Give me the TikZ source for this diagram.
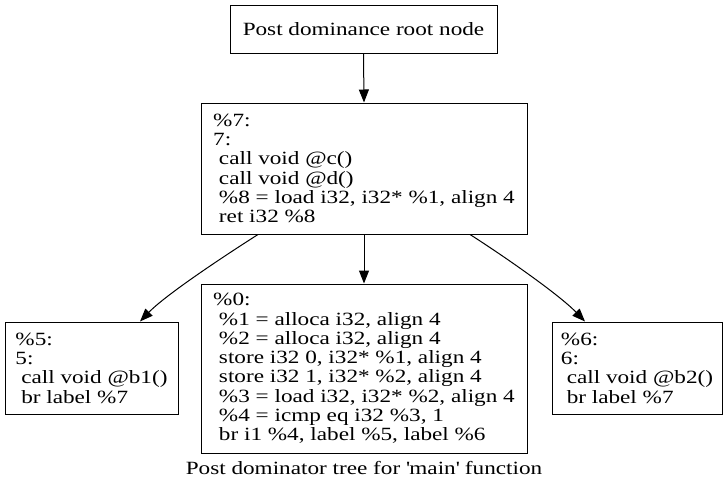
\documentclass[tikz,border=0pt]{standalone}
\usepackage{fontspec}
\setmainfont{Liberation Serif}[FakeStretch=1.24]
\usetikzlibrary{arrows.meta}

\begin{document}
\begin{tikzpicture}[x=1pt,y=-1pt,
    block/.style={draw,line width=1pt,align=left,inner sep=0pt,
      font=\fontsize{18.7}{19.3}\selectfont},
    edge/.style={line width=1pt,-{Triangle[length=13pt,width=10pt]}}]
  \useasboundingbox (0,0) rectangle (728,491);

  \node[block,align=center,minimum width=267pt,minimum height=48pt] (root) at (363.5,29) {Post dominance root node};

  \node[block,minimum width=326pt,minimum height=131pt] (bb7) at (364,168.5)
    {\%7:\\7:\\\ call void @c()\\\ call void @d()\\\ \%8 = load i32, i32* \%1, align 4\\\ ret i32 \%8};

  \node[block,minimum width=173pt,minimum height=92pt] (bb5) at (91.5,368)
    {\%5:\\5:\\\ call void @b1()\\\ br label \%7};
  \node[block,minimum width=326pt,minimum height=169pt] (bb0) at (364,368.5)
    {\%0:\\\ \%1 = alloca i32, align 4\\\ \%2 = alloca i32, align 4\\\ store i32 0, i32* \%1, align 4\\\ store i32 1, i32* \%2, align 4\\\ \%3 = load i32, i32* \%2, align 4\\\ \%4 = icmp eq i32 \%3, 1\\\ br i1 \%4, label \%5, label \%6};
  \node[block,minimum width=170pt,minimum height=92pt] (bb6) at (637,368)
    {\%6:\\6:\\\ call void @b2()\\\ br label \%7};

  \node[font=\fontsize{18.7}{19.3}\selectfont] (caption) at (364,468) {Post dominator tree for \textquotesingle main\textquotesingle\ function};

  \draw[edge] (root.south) -- (bb7.north);
  \draw[edge] (bb7.south) -- (bb0.north);
  \draw[edge] ([xshift=-106pt]bb7.south) .. controls +(-33,21) and +(26,-27) .. ([xshift=48.5pt]bb5.north);
  \draw[edge] ([xshift=106pt]bb7.south) .. controls +(33,21) and +(-26,-27) .. ([xshift=-52pt]bb6.north);
\end{tikzpicture}
\end{document}
